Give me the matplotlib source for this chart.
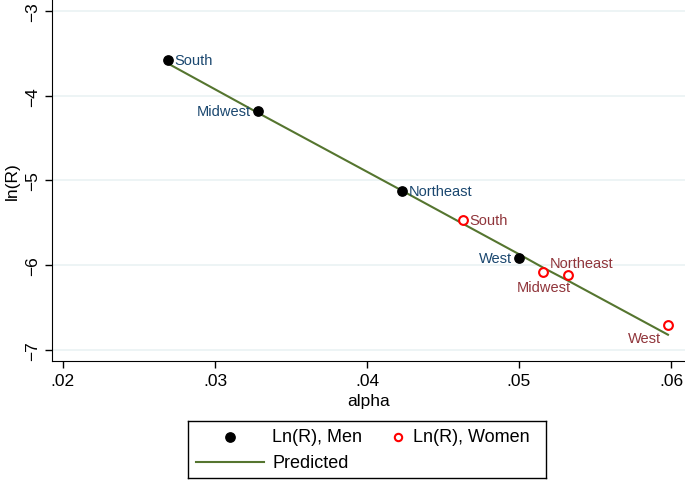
import numpy as np
import matplotlib
matplotlib.use("Agg")
from matplotlib import pyplot as plt

plt.rcParams['font.family'] = ['Liberation Sans', 'DejaVu Sans']

regions = ["South", "Midwest", "Northeast", "West"]

# Men
alpha_men = [0.0269, 0.0328, 0.0423, 0.0500]
lnr_men = [-3.576, -4.176, -5.13, -5.92]
# Women
alpha_women = [0.0463, 0.0516, 0.0532, 0.0598]
lnr_women = [-5.47, -6.08, -6.12, -6.71]

# Predicted (fitted line) at each observation
alpha_pred = [0.0269, 0.0328, 0.0423, 0.0463, 0.0500, 0.0516, 0.0532, 0.0598]
lnr_pred = [-3.62, -4.20, -5.12, -5.51, -5.87, -6.03, -6.18, -6.82]

x_ticks = [0.02, 0.03, 0.04, 0.05, 0.06]
x_ticklabels = [".02", ".03", ".04", ".05", ".06"]
y_ticks = [-7, -6, -5, -4, -3]

men_label_col = "#1a476f"
women_label_col = "#90353b"
line_col = "#55752f"

fig = plt.figure(figsize=(6.85, 4.81), dpi=100)
ax = fig.add_axes([0.0759, 0.2474, 0.9241, 0.7526])

for y in y_ticks:
    ax.axhline(y, color="#eaf2f3", lw=1.2, zorder=0)

pred_line, = ax.plot(alpha_pred, lnr_pred, color=line_col, lw=1.5, zorder=2)
men_pts = ax.scatter(alpha_men, lnr_men, s=45, color="black", zorder=3)
women_pts = ax.scatter(alpha_women, lnr_women, s=40, facecolor="white",
                       edgecolor="red", linewidth=1.5, zorder=3)

# label offsets in points: (dx, dy, ha, va)
men_pos = [(5, 0, "left", "center"), (-5, 0, "right", "center"),
           (5, 0, "left", "center"), (-5, 0, "right", "center")]
women_pos = [(5, 0, "left", "center"), (0, -6, "center", "top"),
             (-13, 4, "left", "bottom"), (-5, -4, "right", "top")]

for a, v, name, (dx, dy, ha, va) in zip(alpha_men, lnr_men, regions, men_pos):
    ax.annotate(name, (a, v), xytext=(dx, dy), textcoords="offset points",
                ha=ha, va=va, color=men_label_col, fontsize=10.5)
for a, v, name, (dx, dy, ha, va) in zip(alpha_women, lnr_women, regions, women_pos):
    ax.annotate(name, (a, v), xytext=(dx, dy), textcoords="offset points",
                ha=ha, va=va, color=women_label_col, fontsize=10.5)

ax.set_xlim(0.01928, 0.06092)
ax.set_ylim(-7.13, -2.86)
ax.set_xticks(x_ticks)
ax.set_xticklabels(x_ticklabels)
ax.set_yticks(y_ticks)
ax.set_yticklabels(["\u22127", "\u22126", "\u22125", "\u22124", "\u22123"],
                   rotation=90, va="center")
ax.tick_params(labelsize=12.5, length=5, width=1)
ax.spines["top"].set_visible(False)
ax.spines["right"].set_visible(False)
ax.set_xlabel("alpha", fontsize=12.5, labelpad=4)
ax.set_ylabel("ln(R)", fontsize=12.5, labelpad=4)

# legend box (Stata style: men/women markers on one row, line below)
lax = fig.add_axes([188 / 685, 2 / 481, 358 / 685, 57 / 481])
lax.set_xlim(0, 1)
lax.set_ylim(0, 1)
lax.set_xticks([])
lax.set_yticks([])
for s in lax.spines.values():
    s.set_linewidth(1)
lax.scatter([0.117], [0.72], s=45, color="black")
lax.scatter([0.587], [0.72], s=28, facecolor="white", edgecolor="red",
            linewidth=1.5)
lax.plot([0.022, 0.212], [0.28, 0.28], color=line_col, lw=1.5)
lax.text(0.235, 0.72, "Ln(R), Men", fontsize=13, va="center")
lax.text(0.628, 0.72, "Ln(R), Women", fontsize=13, va="center")
lax.text(0.235, 0.28, "Predicted", fontsize=13, va="center")

fig.savefig("out.png", dpi=100)
